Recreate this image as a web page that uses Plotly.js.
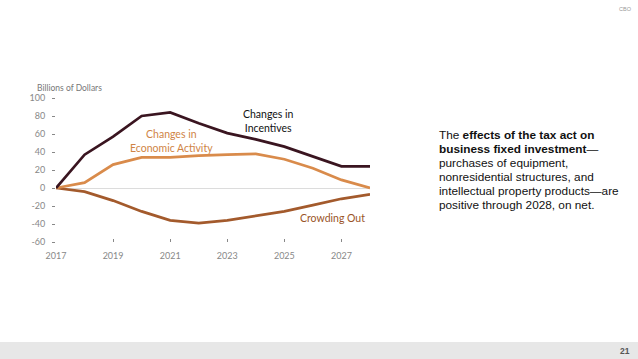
<!DOCTYPE html>
<html><head><meta charset="utf-8">
<script src="https://cdn.plot.ly/plotly-3.0.1.min.js"></script>
<style>html,body{margin:0;padding:0;background:#fff;}#chart{width:638px;height:359px;}</style>
</head><body><div id="chart"></div>
<script>
const years = [2017, 2018, 2019, 2020, 2021, 2022, 2023, 2024, 2025, 2026, 2027, 2028];
const incentives = [0, 37, 57, 80, 84, 72, 61, 54, 46, 35, 24, 24];
const economicActivity = [0, 6, 26, 34, 34, 36, 37, 38, 32, 22, 9, 0];
const crowdingOut = [0, -4, -14, -26, -36, -39, -36, -31, -26, -19, -12, -7];
const yTicks = [100, 80, 60, 40, 20, 0, -20, -40, -60];
const xTicks = [2017, 2019, 2021, 2023, 2025, 2027];
const sideLines = [
  "The <b>effects of the tax act on</b>",
  "<b>business fixed investment</b>—",
  "purchases of equipment,",
  "nonresidential structures, and",
  "intellectual property products—are",
  "positive through 2028, on net."
];

const W = 638, H = 359, L = 56, R = 268, T = 98, B = 117;
const pw = W - L - R, ph = H - T - B;
const px = x => (x - L) / pw;
const py = y => (H - B - y) / ph;

const mk = (y, color, name) => ({x: years, y: y, type: 'scatter', mode: 'lines', name: name,
  line: {color: color, width: 2.7}, hoverinfo: 'skip'});

const data = [
  mk(crowdingOut, '#a35a2c', 'Crowding Out'),
  mk(economicActivity, '#d98b4b', 'Changes in Economic Activity'),
  mk(incentives, '#3a1520', 'Changes in Incentives')
];

const annFont = {family: 'Lato, "Open Sans", sans-serif', size: 10.5};
const annotations = [
  {x: 2024.43, y: 74, xref: 'x', yref: 'y', text: 'Changes in<br>Incentives', showarrow: false,
   font: Object.assign({}, annFont, {color: '#111'})},
  {x: 2021.05, y: 52, xref: 'x', yref: 'y', text: 'Changes in<br>Economic Activity', showarrow: false,
   font: Object.assign({}, annFont, {color: '#cf8445'})},
  {x: 2026.7, y: -33, xref: 'x', yref: 'y', text: 'Crowding Out', showarrow: false,
   font: Object.assign({}, annFont, {color: '#9a5326'})},
  {x: px(35), y: py(88), xref: 'paper', yref: 'paper', xanchor: 'left', yanchor: 'middle',
   text: 'Billions of Dollars', showarrow: false,
   font: {family: 'Lato, "Open Sans", sans-serif', size: 8.5, color: '#777'}},
  {x: px(625), y: py(9), xref: 'paper', yref: 'paper', xanchor: 'center', yanchor: 'middle',
   text: 'CBO', showarrow: false, font: {family: 'Liberation Sans, Arial, sans-serif', size: 5.5, color: '#999'}},
  {x: px(632), y: py(351), xref: 'paper', yref: 'paper', xanchor: 'right', yanchor: 'middle',
   text: '<b>21</b>', showarrow: false, font: {family: 'Liberation Sans, Arial, sans-serif', size: 8.5, color: '#555'}}
];
sideLines.forEach((t, i) => {
  annotations.push({x: px(437), y: py(135 + i * 14), xref: 'paper', yref: 'paper',
    xanchor: 'left', yanchor: 'middle', text: t, showarrow: false,
    font: {family: '"Liberation Sans", Arial, sans-serif', size: 11.8, color: '#111'}});
});

const layout = {
  width: W, height: H,
  margin: {l: L, r: R, t: T, b: B, pad: 0},
  paper_bgcolor: '#fff', plot_bgcolor: '#fff',
  showlegend: false,
  xaxis: {range: [2017, 2028], tickvals: xTicks, ticktext: xTicks.map(String),
    showgrid: false, zeroline: false, showline: false,
    ticks: 'inside', ticklen: 3, tickcolor: '#888', tickwidth: 1, ticklabelstandoff: 7,
    tickfont: {family: 'Lato, "Open Sans", sans-serif', size: 9, color: '#888'}},
  yaxis: {range: [-60, 100], tickvals: yTicks, ticktext: yTicks.map(String),
    showgrid: false, zeroline: true, zerolinecolor: '#dcdcdc', zerolinewidth: 1, showline: false,
    ticks: 'outside', ticklen: 3, tickcolor: '#888', tickwidth: 1, ticklabelstandoff: 5,
    tickfont: {family: 'Lato, "Open Sans", sans-serif', size: 9, color: '#888'}},
  annotations: annotations,
  shapes: [
    {type: 'rect', xref: 'paper', yref: 'paper', x0: px(0), x1: px(W), y0: py(342), y1: py(H),
     fillcolor: '#e7e7e7', line: {width: 0}, layer: 'below'}
  ]
};

Plotly.newPlot('chart', data, layout, {staticPlot: true, displayModeBar: false});
</script></body></html>
